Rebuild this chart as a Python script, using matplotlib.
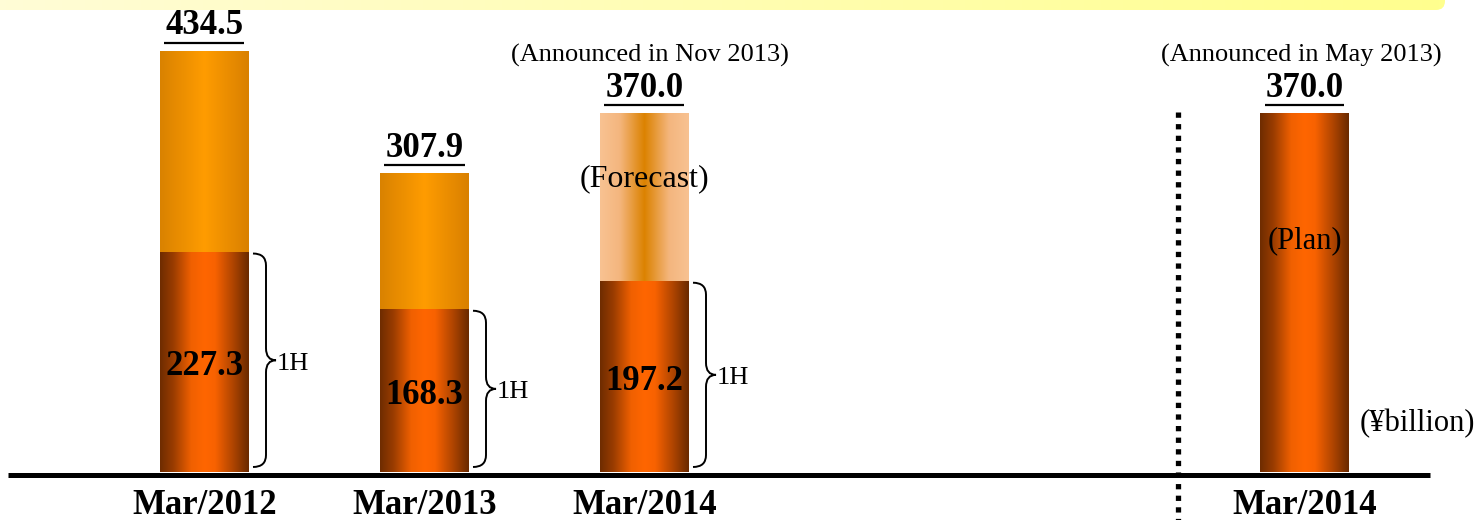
import numpy as np
import matplotlib
matplotlib.use("Agg")
import matplotlib.pyplot as plt
from matplotlib.colors import LinearSegmentedColormap
from matplotlib.path import Path
from matplotlib.patches import PathPatch, FancyBboxPatch

# ---------------- data ----------------
categories = ["Mar/2012", "Mar/2013", "Mar/2014"]
first_half = [227.3, 168.3, 197.2]
full_year = [434.5, 307.9, 370.0]
is_forecast = [False, False, True]
plan_category = "Mar/2014"
plan_value = 370.0
forecast_note = "(Announced in Nov 2013)"
plan_note = "(Announced in May 2013)"
unit_label = "(\u00a5billion)"

plt.rcParams['font.family'] = ['Liberation Serif', 'DejaVu Serif']

W, H = 1481, 520
fig = plt.figure(figsize=(W / 100, H / 100), dpi=100)
ax = fig.add_axes([0, 0, 1, 1])
ax.set_axis_off()

PX_X = 220.0      # pixels per x unit
PX_Y = 0.97       # pixels per y unit
X0PX = 204.5
BASE_PX = 472.0
xlim = (-X0PX / PX_X, (W - X0PX) / PX_X)
ylim = (-(H - BASE_PX) / PX_Y, BASE_PX / PX_Y)

def dx(px):
    return px / PX_X

def dy(px):
    return px / PX_Y

bar_w = dx(89)

cm_dark = LinearSegmentedColormap.from_list(
    "dark", [(0, "#6e2c00"), (0.15, "#9a3c00"), (0.35, "#f06000"), (0.5, "#ff6600"),
             (0.62, "#f86200"), (0.82, "#b04500"), (1, "#6a2a00")])
cm_orange = LinearSegmentedColormap.from_list(
    "orange", [(0, "#d98200"), (0.5, "#ff9c00"), (1, "#d98000")])
cm_light = LinearSegmentedColormap.from_list(
    "light", [(0, "#f8c292"), (0.22, "#f4b67e"), (0.5, "#dc8200"), (0.78, "#f4b67e"), (1, "#f8c292")])

grad = np.linspace(0, 1, 256)[None, :]

def grad_bar(x, y0, y1, cmap):
    ax.imshow(grad, cmap=cmap, extent=[x - bar_w / 2, x + bar_w / 2, y0, y1],
              aspect='auto', interpolation='bilinear', zorder=2)

def brace(xl, ytop, ybot):
    x0 = xl + dx(4)
    xv = xl + dx(17)
    xt = xl + dx(27)
    ym = (ytop + ybot) / 2
    r = dy(12)
    verts = [(x0, ytop), (xv, ytop), (xv, ytop - r),
             (xv, ym + r),
             (xv, ym), (xt, ym),
             (xv, ym), (xv, ym - r),
             (xv, ybot + r),
             (xv, ybot), (x0, ybot)]
    codes = [Path.MOVETO, Path.CURVE3, Path.CURVE3,
             Path.LINETO,
             Path.CURVE3, Path.CURVE3,
             Path.CURVE3, Path.CURVE3,
             Path.LINETO,
             Path.CURVE3, Path.CURVE3]
    ax.add_patch(PathPatch(Path(verts, codes), fill=False, lw=1.4, color="black", zorder=3))

def total_label(x, v):
    ax.text(x, v + dy(25), f"{v:.1f}", ha='center', va='center', fontsize=25,
            fontweight='bold', zorder=4)
    ax.plot([x - dx(40), x + dx(40)], [v + dy(8)] * 2, color="black", lw=1.6,
            solid_capstyle='butt', zorder=4)

positions = list(range(len(categories)))
for x, h1, fy, fc in zip(positions, first_half, full_year, is_forecast):
    grad_bar(x, 0, h1, cm_dark)
    grad_bar(x, h1, fy, cm_light if fc else cm_orange)
    ax.text(x, h1 / 2 - dy(5), f"{h1:.1f}", ha='center', va='center', fontsize=25,
            fontweight='bold', zorder=4)
    total_label(x, fy)
    brace(x + bar_w / 2, h1 - dy(2), dy(5))
    ax.text(x + bar_w / 2 + dx(28), h1 / 2 - dy(2), "1H", ha='left', va='center',
            fontsize=19, zorder=4)
    ax.text(x, -dy(34), categories[x], ha='center', va='center', fontsize=25,
            fontweight='bold')
    if fc:
        ax.text(x, fy - dy(66), "(Forecast)", ha='center', va='center', fontsize=23, zorder=4)
        ax.text(x + dx(5), fy + dy(58), forecast_note, ha='center', va='center', fontsize=19)

# plan bar
xp = 5
grad_bar(xp, 0, plan_value, cm_dark)
total_label(xp, plan_value)
ax.text(xp, plan_value * 0.645, "(Plan)", ha='center', va='center', fontsize=22, zorder=4)
ax.text(xp - dx(3), plan_value + dy(58), plan_note, ha='center', va='center', fontsize=19)
ax.text(xp, -dy(34), plan_category, ha='center', va='center', fontsize=25, fontweight='bold')
ax.text(xp + dx(113), dy(48), unit_label, ha='center', va='center', fontsize=22)

# separator dotted line
xs = xp - dx(1307.5 - 1181)
ax.plot([xs, xs], [dy(472 - 112), ylim[0]], color="black", lw=3.8,
        linestyle=(0, (1, 1.2)), dash_capstyle='butt', zorder=3)

# baseline
ax.plot([xlim[0] + dx(8), xlim[0] + dx(1430)], [-dy(2.5)] * 2, color="black", lw=3.6,
        solid_capstyle='butt', zorder=3)

ax.set_xlim(*xlim)
ax.set_ylim(*ylim)

# top banner
bh = 10
bax = fig.add_axes([0, 1 - bh / H, 1, bh / H])
bax.set_axis_off()
band = FancyBboxPatch((-30, 0), 1445 + 30, bh + 20,
                      boxstyle="round,pad=0,rounding_size=9",
                      facecolor='none', edgecolor='none')
bax.add_patch(band)
cm_band = LinearSegmentedColormap.from_list("band", ["#fffcd6", "#ffff8e"])
im = bax.imshow(grad, cmap=cm_band, extent=[0, 1445, 0, bh + 20], aspect='auto', zorder=1)
im.set_clip_path(band)
bax.set_xlim(0, W)
bax.set_ylim(0, bh)

fig.savefig("out.png", dpi=100)
